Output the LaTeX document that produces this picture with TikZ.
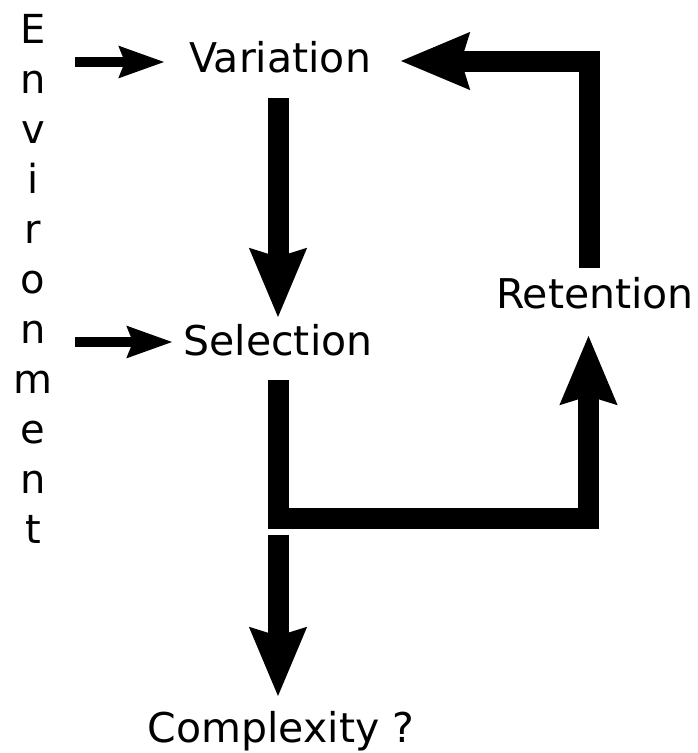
\documentclass[tikz,border=0pt]{standalone}
\usepackage{fontspec}
\setmainfont{DejaVu Sans}
\usetikzlibrary{arrows.meta}
\begin{document}
\begin{tikzpicture}[x=1pt,y=-1pt,
  lbl/.style={anchor=base,inner sep=0pt,font=\fontsize{41}{49}\selectfont},
  letter/.style={anchor=base,inner sep=0pt,font=\fontsize{40}{48}\selectfont},
  thick arrow/.style={line width=21pt,line cap=butt,line join=miter,
    -{Stealth[length=68pt,width=54pt,inset=7pt]}},
  thin arrow/.style={line width=10pt,line cap=butt,
    -{Stealth[length=45pt,width=30pt,inset=5pt]}}]
\useasboundingbox (0,0) rectangle (698,753);
\fill[white] (0,0) rectangle (698,753);
% Environment letters
\foreach \ch [count=\i from 0] in {E,n,v,i,r,o,n,m,e,n,t}
  \node[letter] (env\i) at (33,43+50*\i) {\ch};
% labels
\node[lbl] (var) at (280,72) {Variation};
\node[lbl] (sel) at (278,355) {Selection};
\node[lbl] (ret) at (595,308) {Retention};
\node[lbl] (comp) at (281,742) {Complexity ?};
% coordinates
\coordinate (envA) at (75,62);
\coordinate (varW) at (165,62);
\coordinate (envB) at (75,342);
\coordinate (selW) at (173,342);
\coordinate (varS) at (278,98);
\coordinate (selN) at (278,318);
\coordinate (selS) at (278,380);
\coordinate (cornerL) at (278,518);
\coordinate (cornerR) at (588.5,518);
\coordinate (retS) at (588.5,335);
\coordinate (retN) at (589,268);
\coordinate (cornerT) at (589,61);
\coordinate (varE) at (400,61);
\coordinate (splitS) at (278,535);
\coordinate (compN) at (278,697);
% arrows
\draw[thin arrow] (envA) -- (varW);
\draw[thin arrow] (envB) -- (selW);
\draw[thick arrow] (varS) -- (selN);
\draw[thick arrow] (selS) -- (cornerL) -- (cornerR) -- (retS);
\draw[thick arrow] (retN) -- (cornerT) -- (varE);
\draw[thick arrow] (splitS) -- (compN);
\end{tikzpicture}
\end{document}
